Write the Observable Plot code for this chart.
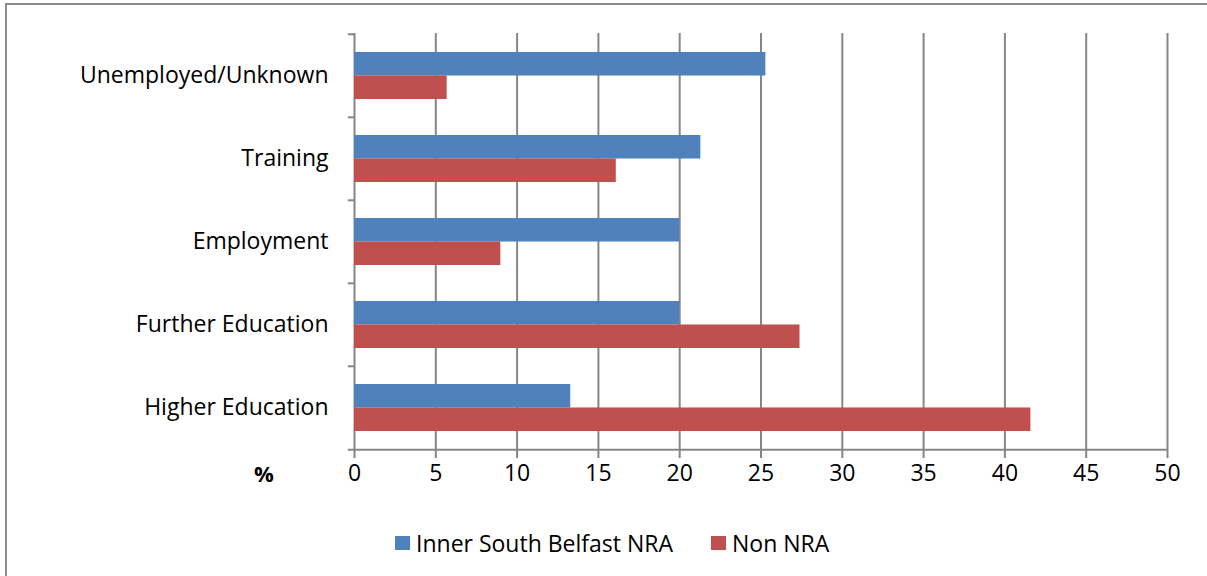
<!DOCTYPE html>
<html>
<head>
<meta charset="utf-8">
<script src="https://cdn.jsdelivr.net/npm/d3@7"></script>
<script src="https://cdn.jsdelivr.net/npm/@observablehq/plot@0.6"></script>
<style>
  html, body { margin: 0; padding: 0; background: #fff; }
  body { width: 1207px; height: 576px; position: relative; overflow: hidden; font-family: "Open Sans", sans-serif; }
  #frame { position: absolute; left: 5px; top: 3px; width: 1220px; height: 600px; border: 2px solid #8c8c8c; box-sizing: border-box; }
  #chart { position: absolute; left: 0; top: 0; }
  #pct { position: absolute; left: 254px; top: 458px; font-size: 22px; font-weight: bold; color: #000; }
  #legend { position: absolute; left: 395px; top: 527px; display: flex; align-items: center; font-size: 23px; color: #000; }
  .sw { display: inline-block; width: 15px; height: 14px; margin-right: 6px; }
  .item { display: flex; align-items: center; margin-right: 38px; }
</style>
</head>
<body>
<div id="frame"></div>
<div id="chart"></div>
<div id="pct">%</div>
<div id="legend"></div>
<script>
const categories = ["Unemployed/Unknown", "Training", "Employment", "Further Education", "Higher Education"];
const seriesNames = ["Inner South Belfast NRA", "Non NRA"];
const innerSouthBelfast = [25.3, 21.3, 20.0, 20.0, 13.3];
const nonNRA = [5.7, 16.1, 9.0, 27.4, 41.6];
const xTicks = [0, 5, 10, 15, 20, 25, 30, 35, 40, 45, 50];
const colors = ["#4F81BD", "#C0504D"];

const rows = categories.map((c, i) => ({category: c, a: innerSouthBelfast[i], b: nonNRA[i]}));

const W = 1207, H = 515;
const mL = 354, mR = 40, mT = 33, mB = H - 450;
const step = (H - mT - mB) / categories.length;
const pad = 0.437;
const bw = step * (1 - pad);

const gray = "#868686";
const font = "Open Sans, sans-serif";

const chart = Plot.plot({
  width: W,
  height: H,
  marginLeft: mL,
  marginRight: mR,
  marginTop: mT,
  marginBottom: mB,
  style: {fontFamily: font, fontSize: "23px", color: "#000", background: "transparent"},
  x: {domain: [0, 50], ticks: xTicks},
  y: {domain: categories, paddingInner: pad, paddingOuter: pad / 2},
  marks: [
    Plot.ruleX(xTicks, {stroke: gray, strokeWidth: 2, insetBottom: -8}),
    Plot.ruleY(categories, {y: d => d, dy: -step / 2, x1: -0.38, x2: 0, stroke: gray, strokeWidth: 2}),
    Plot.ruleY(categories.slice(-1), {y: d => d, dy: step / 2, x1: -0.38, x2: 50, stroke: gray, strokeWidth: 2}),
    Plot.barX(rows, {y: "category", x: "a", fill: colors[0], insetBottom: bw / 2}),
    Plot.barX(rows, {y: "category", x: "b", fill: colors[1], insetTop: bw / 2}),
    Plot.axisX({ticks: xTicks, tickSize: 0, tickPadding: 14, label: null, fontSize: 23}),
    Plot.axisY({tickSize: 0, tickPadding: 26, label: null, fontSize: 23})
  ]
});
document.getElementById("chart").appendChild(chart);

const legend = document.getElementById("legend");
seriesNames.forEach((s, i) => {
  const item = document.createElement("div");
  item.className = "item";
  const sw = document.createElement("span");
  sw.className = "sw";
  sw.style.background = colors[i];
  item.appendChild(sw);
  item.appendChild(document.createTextNode(s));
  legend.appendChild(item);
});
</script>
</body>
</html>
